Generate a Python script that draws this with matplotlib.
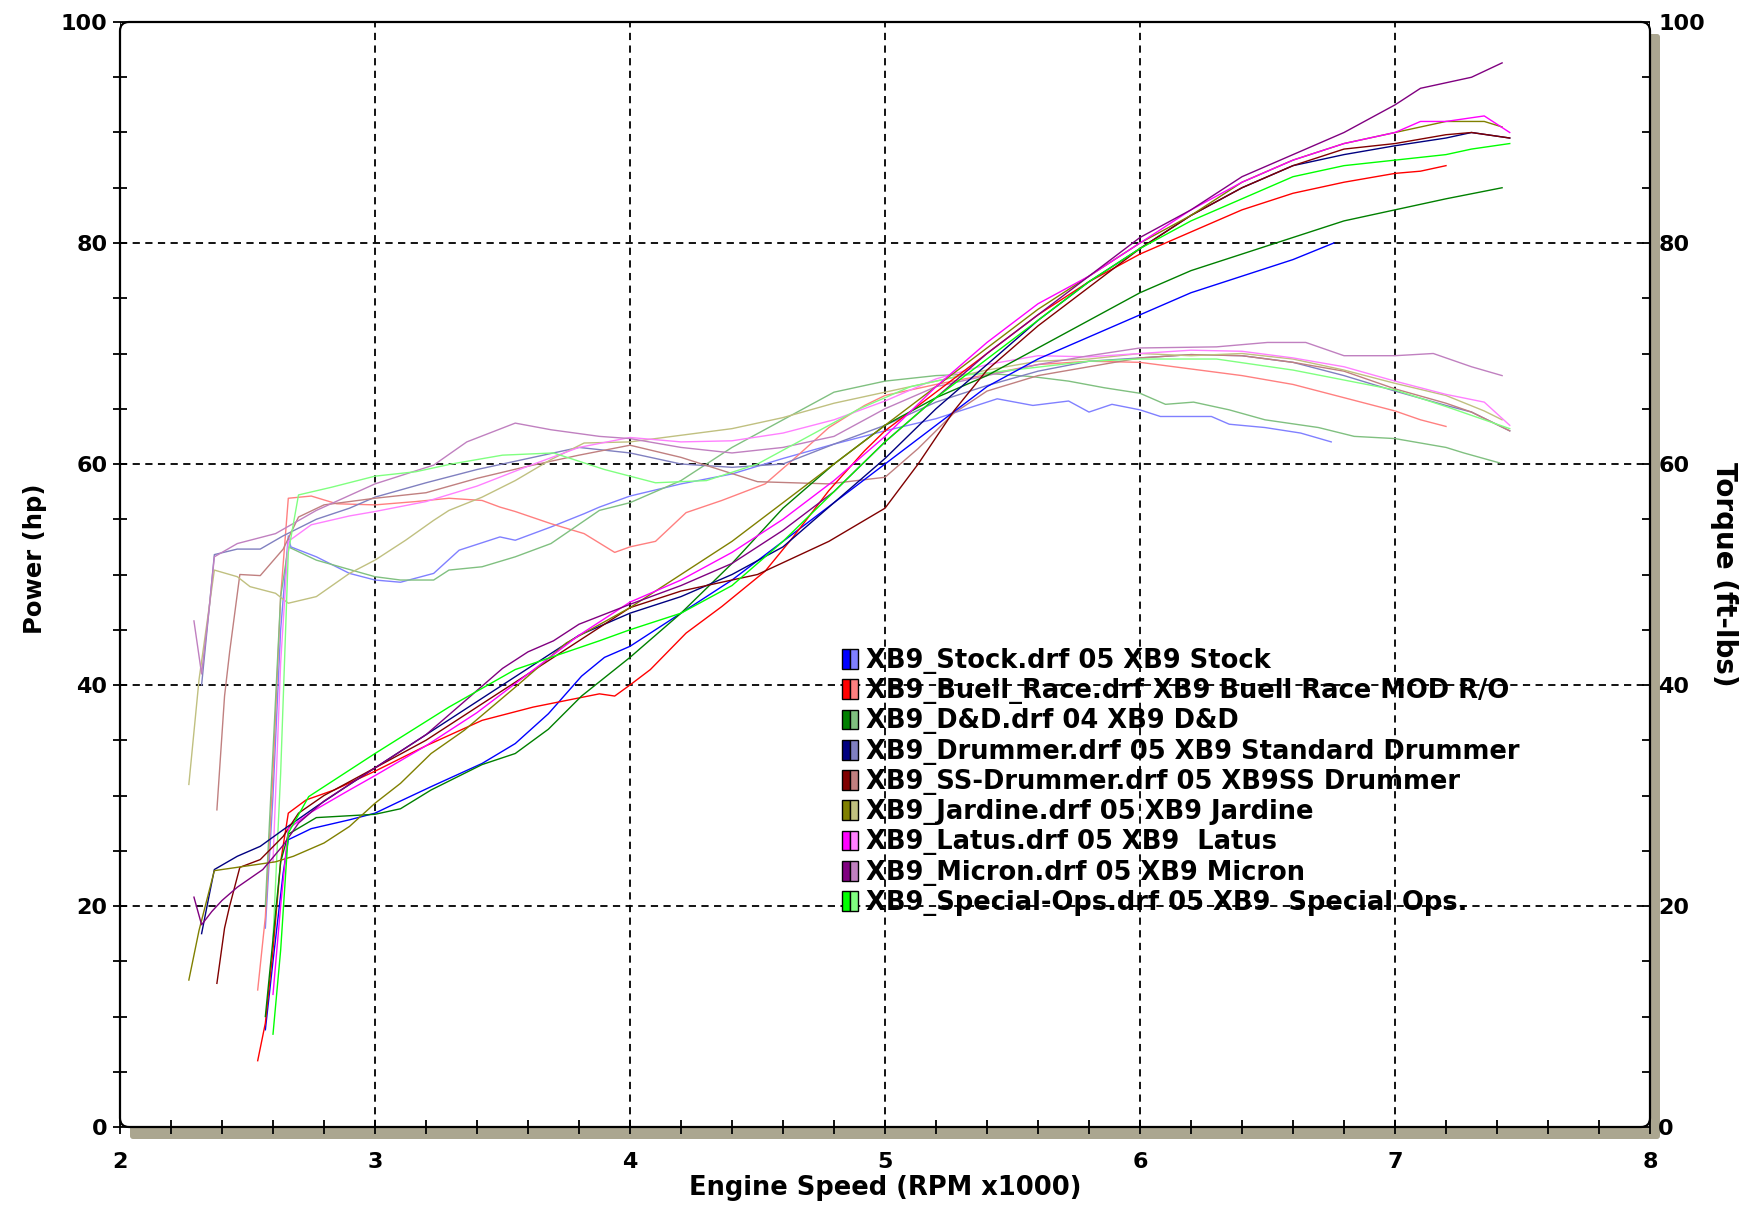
import matplotlib
matplotlib.use("Agg")
import matplotlib.pyplot as plt
from matplotlib.patches import Patch, FancyBboxPatch
from matplotlib.legend_handler import HandlerTuple
from matplotlib.ticker import MultipleLocator

# run names shown in the legend
labels = [
    "XB9_Stock.drf 05 XB9 Stock",
    "XB9_Buell_Race.drf XB9 Buell Race MOD R/O",
    "XB9_D&D.drf 04 XB9 D&D",
    "XB9_Drummer.drf 05 XB9 Standard Drummer",
    "XB9_SS-Drummer.drf 05 XB9SS Drummer",
    "XB9_Jardine.drf 05 XB9 Jardine",
    "XB9_Latus.drf 05 XB9  Latus",
    "XB9_Micron.drf 05 XB9 Micron",
    "XB9_Special-Ops.drf 05 XB9  Special Ops.",
]
power_colors = ["#0000ff", "#ff0000", "#008000", "#000080", "#800000",
                "#808000", "#ff00ff", "#800080", "#00ff00"]
torque_colors = ["#8080ff", "#ff8080", "#80c080", "#8080c0", "#c08080",
                 "#c0c080", "#ff80ff", "#c080c0", "#80ff80"]

# ---- power (hp) vs rpm x1000 ----
stock_rpm = [2.57, 2.6, 2.64, 2.66, 2.75, 2.9, 3.0, 3.1, 3.22, 3.42, 3.55, 3.68, 3.81, 3.9, 4.0, 4.2, 4.4,
             4.6, 4.8, 5.0, 5.2, 5.4, 5.6, 5.8, 6.0, 6.2, 6.4, 6.6, 6.76]
stock_hp = [8.8, 15, 23, 26, 27, 27.8, 28.4, 29.5, 30.8, 32.9, 34.7, 37.4, 40.8, 42.5, 43.5, 46.5, 49.5,
            53, 56.5, 60, 63.5, 67, 69.5, 71.5, 73.5, 75.5, 77, 78.5, 80]

race_rpm = [2.54, 2.57, 2.6, 2.63, 2.66, 2.73, 2.84, 3.0, 3.2, 3.42, 3.62, 3.88, 3.94, 4.0, 4.08, 4.22, 4.36,
            4.53, 4.64, 4.78, 4.92, 5.0, 5.2, 5.4, 5.6, 5.8, 6.0, 6.2, 6.4, 6.6, 6.8, 7.0, 7.1, 7.2]
race_hp = [6, 9.4, 16, 24, 28.4, 29.6, 30.5, 32.2, 34.5, 36.8, 38, 39.2, 39, 40, 41.4, 44.7, 47.1,
           50.3, 53.4, 57.6, 61.2, 63, 66.5, 70, 73.5, 76.5, 79, 81, 83, 84.5, 85.5, 86.3, 86.5, 87]

dd_rpm = [2.57, 2.6, 2.63, 2.66, 2.77, 3.0, 3.1, 3.22, 3.42, 3.55, 3.68, 3.81, 4.0, 4.2, 4.4, 4.6, 4.8,
          5.0, 5.2, 5.4, 5.6, 5.8, 6.0, 6.2, 6.4, 6.6, 6.8, 7.0, 7.2, 7.42]
dd_hp = [10, 17, 24, 26.5, 28, 28.3, 28.8, 30.5, 32.8, 33.8, 36, 39, 42.5, 46.5, 51, 56, 60,
         63.5, 66, 68, 70.5, 73, 75.5, 77.5, 79, 80.5, 82, 83, 84, 85]

drum_rpm = [2.32, 2.35, 2.37, 2.46, 2.55, 2.64, 2.77, 2.9, 3.0, 3.2, 3.4, 3.6, 3.8, 4.0, 4.2, 4.4, 4.6,
            4.8, 5.0, 5.2, 5.4, 5.6, 5.8, 6.0, 6.2, 6.4, 6.6, 6.8, 7.0, 7.2, 7.3, 7.45]
drum_hp = [17.5, 21, 23.3, 24.5, 25.4, 26.9, 29, 31, 32.5, 35.5, 38.5, 41.5, 44.5, 46.5, 48, 50, 52.5,
           56.5, 60.5, 65, 69, 73, 76.5, 79.5, 82.5, 85, 87, 88, 88.8, 89.5, 90, 89.5]

ss_rpm = [2.38, 2.41, 2.43, 2.47, 2.55, 2.64, 2.7, 2.8, 3.0, 3.2, 3.4, 3.6, 3.8, 4.0, 4.2, 4.5, 4.78,
          5.0, 5.13, 5.27, 5.4, 5.6, 5.8, 6.0, 6.2, 6.4, 6.6, 6.8, 7.0, 7.2, 7.3, 7.45]
ss_hp = [13, 18, 20, 23.5, 24.2, 26.3, 28.4, 30, 32.5, 35, 38, 41, 44, 47, 48.5, 50, 53,
         56, 60, 64.8, 68.5, 72.5, 76, 79.5, 82.5, 85, 87, 88.5, 89, 89.8, 90, 89.5]

jard_rpm = [2.27, 2.31, 2.37, 2.46, 2.61, 2.68, 2.8, 2.9, 3.0, 3.1, 3.22, 3.35, 3.55, 3.75, 4.0, 4.2, 4.4,
            4.6, 4.8, 5.0, 5.2, 5.4, 5.6, 5.8, 6.0, 6.2, 6.4, 6.6, 6.8, 7.0, 7.2, 7.35, 7.42]
jard_hp = [13.3, 17.8, 23.2, 23.5, 24, 24.5, 25.7, 27.2, 29.3, 31.1, 33.8, 35.9, 39.8, 43.8, 47, 50, 53,
           56.5, 60, 63.5, 67, 70.5, 74, 77, 80, 82.5, 85.5, 87.5, 89, 90, 91, 91, 90.5]

latus_rpm = [2.6, 2.63, 2.66, 2.75, 2.9, 3.0, 3.2, 3.4, 3.6, 3.8, 4.0, 4.2, 4.4, 4.6, 4.8, 5.0, 5.2,
             5.4, 5.6, 5.8, 6.0, 6.2, 6.4, 6.6, 6.8, 7.0, 7.1, 7.2, 7.35, 7.45]
latus_hp = [12, 20, 27, 28.5, 30.5, 31.8, 34.5, 37.5, 41, 44.5, 47.5, 49.5, 52, 55, 58.5, 62.5, 67,
            71, 74.5, 77, 80, 83, 85.5, 87.5, 89, 90, 91, 91, 91.5, 90]

micron_rpm = [2.29, 2.32, 2.36, 2.4, 2.46, 2.56, 2.64, 2.7, 2.8, 2.9, 3.0, 3.1, 3.2, 3.3, 3.4, 3.5, 3.6,
              3.7, 3.8, 4.0, 4.2, 4.4, 4.6, 4.8, 5.0, 5.2, 5.4, 5.6, 5.8, 6.0, 6.2, 6.4, 6.6, 6.8,
              7.0, 7.1, 7.2, 7.3, 7.42]
micron_hp = [20.8, 18.3, 19.5, 20.5, 21.7, 23.3, 25.5, 27.5, 29.5, 31, 32.5, 34, 35.5, 37.5, 39.5, 41.5, 43,
             44, 45.5, 47.3, 49, 51, 54, 57.5, 62, 66, 70, 73.5, 77, 80.5, 83, 86, 88, 90,
             92.5, 94, 94.5, 95, 96.3]

ops_rpm = [2.6, 2.63, 2.66, 2.74, 3.0, 3.29, 3.55, 3.88, 4.0, 4.2, 4.4, 4.6, 4.8, 5.0, 5.2, 5.4, 5.6,
           5.8, 6.0, 6.2, 6.4, 6.6, 6.8, 7.0, 7.2, 7.3, 7.45]
ops_hp = [8.4, 16, 26.6, 29.9, 33.8, 38, 41.4, 44, 45, 46.5, 49, 53, 57.5, 62, 66, 69.5, 73,
          76.5, 79.5, 82, 84, 86, 87, 87.5, 88, 88.5, 89]

# ---- torque (ft-lbs) vs rpm x1000 ----
stock_t_rpm = [2.57, 2.6, 2.63, 2.66, 2.67, 2.77, 2.9, 3.0, 3.1, 3.23, 3.33, 3.49, 3.55, 3.69, 3.82, 3.88,
               4.0, 4.2, 4.4, 4.6, 4.8, 5.0, 5.2, 5.44, 5.58, 5.72, 5.8, 5.89, 6.0, 6.08, 6.28, 6.35,
               6.49, 6.63, 6.75]
stock_tq = [18, 30, 45, 53.5, 52.5, 51.6, 50.1, 49.5, 49.3, 50.1, 52.2, 53.4, 53.1, 54.3, 55.5, 56.1,
            57.1, 58.2, 59.1, 60.5, 61.8, 63, 64.1, 65.9, 65.3, 65.7, 64.7, 65.4, 64.9, 64.3, 64.3, 63.6,
            63.3, 62.8, 62]

race_t_rpm = [2.54, 2.57, 2.6, 2.63, 2.66, 2.75, 2.85, 3.0, 3.16, 3.29, 3.42, 3.49, 3.55, 3.69, 3.82,
              3.94, 4.0, 4.1, 4.22, 4.36, 4.53, 4.64, 4.78, 4.92, 5.0, 5.2, 5.4, 5.6, 5.8, 6.0, 6.2,
              6.4, 6.6, 6.8, 7.0, 7.1, 7.2]
race_tq = [12.4, 19, 32, 48, 56.9, 57.1, 56.4, 56.3, 56.6, 56.9, 56.7, 56.1, 55.7, 54.6, 53.7,
           52, 52.5, 53, 55.6, 56.7, 58.2, 60.4, 63.3, 65.3, 66.2, 67.2, 68.1, 69, 69.3, 69.2, 68.6,
           68, 67.2, 66, 64.8, 64, 63.4]

dd_t_rpm = [2.57, 2.6, 2.63, 2.66, 2.77, 3.0, 3.1, 3.23, 3.29, 3.42, 3.55, 3.69, 3.88, 4.0, 4.2, 4.4,
            4.6, 4.8, 5.0, 5.2, 5.4, 5.58, 5.72, 5.86, 6.0, 6.1, 6.21, 6.35, 6.49, 6.7, 6.84, 7.0,
            7.2, 7.27, 7.41]
dd_tq = [20, 34, 48, 52.5, 51.3, 49.8, 49.5, 49.5, 50.4, 50.7, 51.6, 52.8, 55.8, 56.5, 58.5, 61.5,
         64, 66.5, 67.5, 68, 68.2, 67.9, 67.5, 66.9, 66.4, 65.4, 65.6, 64.9, 64, 63.3, 62.5, 62.3,
         61.5, 61, 60.1]

drum_t_rpm = [2.32, 2.35, 2.37, 2.46, 2.55, 2.64, 2.77, 2.9, 3.0, 3.2, 3.4, 3.6, 3.8, 4.0, 4.2, 4.4,
              4.6, 4.8, 5.0, 5.2, 5.4, 5.6, 5.8, 6.0, 6.2, 6.4, 6.6, 6.8, 7.0, 7.2, 7.3, 7.45]
drum_tq = [40, 47, 51.8, 52.3, 52.3, 53.5, 55, 56, 57, 58.3, 59.5, 60.5, 61.5, 61, 60, 59.7,
           60, 61.8, 63.5, 65.6, 67.1, 68.4, 69.3, 69.6, 69.9, 69.8, 69.2, 68, 66.6, 65.3, 64.7, 63]

ss_t_rpm = [2.38, 2.41, 2.43, 2.47, 2.55, 2.64, 2.7, 2.8, 3.0, 3.2, 3.4, 3.6, 3.8, 4.0, 4.2, 4.5,
            4.78, 5.0, 5.13, 5.27, 5.4, 5.6, 5.8, 6.0, 6.2, 6.4, 6.6, 6.8, 7.0, 7.2, 7.3, 7.45]
ss_tq = [28.7, 39, 43, 50, 49.9, 52.3, 55.2, 56.3, 56.9, 57.4, 58.7, 59.8, 60.8, 61.7, 60.6, 58.4,
         58.2, 58.8, 61.4, 64.6, 66.6, 68, 68.8, 69.6, 69.9, 69.8, 69.2, 68.4, 66.8, 65.5, 64.7, 63]

jard_t_rpm = [2.27, 2.31, 2.37, 2.46, 2.51, 2.61, 2.66, 2.77, 2.9, 3.0, 3.12, 3.23, 3.29, 3.42, 3.55,
              3.69, 3.82, 4.0, 4.2, 4.4, 4.6, 4.8, 5.0, 5.2, 5.4, 5.6, 5.8, 6.0, 6.2, 6.4, 6.6, 6.8,
              7.0, 7.2, 7.35, 7.42]
jard_tq = [31, 40.5, 50.4, 49.8, 48.9, 48.3, 47.4, 48, 50.1, 51.3, 53.1, 54.9, 55.8, 57, 58.5,
           60.4, 61.9, 62, 62.6, 63.2, 64.2, 65.5, 66.5, 67.5, 68.5, 69.3, 69.5, 70, 69.8, 70, 69.5, 68.5,
           67.3, 66.2, 64.8, 64]

latus_t_rpm = [2.6, 2.63, 2.66, 2.75, 2.9, 3.0, 3.2, 3.4, 3.6, 3.8, 4.0, 4.2, 4.4, 4.6, 4.8, 5.0,
               5.2, 5.4, 5.6, 5.8, 6.0, 6.2, 6.4, 6.6, 6.8, 7.0, 7.2, 7.35, 7.45]
latus_tq = [24, 42, 53, 54.5, 55.3, 55.7, 56.6, 58, 59.8, 61.5, 62.4, 62, 62.1, 62.8, 64, 65.7,
            67.7, 69, 69.8, 69.7, 70, 70.3, 70.2, 69.6, 68.8, 67.5, 66.3, 65.6, 63.5]

micron_t_rpm = [2.29, 2.32, 2.35, 2.37, 2.46, 2.61, 2.77, 3.0, 3.23, 3.36, 3.55, 3.69, 3.88, 4.0, 4.2,
                4.4, 4.6, 4.8, 5.0, 5.2, 5.4, 5.6, 5.8, 6.0, 6.3, 6.5, 6.65, 6.8, 7.0, 7.15, 7.3, 7.42]
micron_tq = [45.8, 41, 47, 51.6, 52.8, 53.7, 55.8, 58.2, 59.9, 62, 63.7, 63.1, 62.5, 62.3, 61.5,
             61, 61.5, 62.5, 65, 67, 68, 69, 69.8, 70.5, 70.6, 71, 71, 69.8, 69.8, 70, 68.8, 68]

ops_t_rpm = [2.6, 2.63, 2.66, 2.7, 2.83, 3.0, 3.16, 3.3, 3.5, 3.7, 3.9, 4.1, 4.3, 4.5, 4.7, 4.9,
             5.1, 5.3, 5.5, 5.8, 6.0, 6.3, 6.6, 7.0, 7.2, 7.45]
ops_tq = [17, 32, 52, 57.2, 57.9, 58.9, 59.3, 60, 60.8, 61, 59.5, 58.3, 58.5, 60, 62.5, 65,
          67, 68, 68.5, 69.3, 69.5, 69.5, 68.5, 66.7, 65.2, 63.2]

power_runs = [(stock_rpm, stock_hp), (race_rpm, race_hp), (dd_rpm, dd_hp), (drum_rpm, drum_hp),
              (ss_rpm, ss_hp), (jard_rpm, jard_hp), (latus_rpm, latus_hp), (micron_rpm, micron_hp),
              (ops_rpm, ops_hp)]
torque_runs = [(stock_t_rpm, stock_tq), (race_t_rpm, race_tq), (dd_t_rpm, dd_tq), (drum_t_rpm, drum_tq),
               (ss_t_rpm, ss_tq), (jard_t_rpm, jard_tq), (latus_t_rpm, latus_tq),
               (micron_t_rpm, micron_tq), (ops_t_rpm, ops_tq)]

W, H = 1760, 1206
fig = plt.figure(figsize=(W / 100, H / 100), dpi=100)
fig.patch.set_facecolor("white")

# plot area in pixels
L, R, T, B = 120, 1650, 22, 1127
ax = fig.add_axes([L / W, 1 - B / H, (R - L) / W, (B - T) / H])
ax.set_facecolor("white")
ax.set_zorder(1)

# grey drop shadow and rounded frame
shadow = FancyBboxPatch((L + 10, H - B - 12), R - L, B - T, boxstyle="round,pad=0,rounding_size=3",
                        transform=None, facecolor="#aba690", edgecolor="none", zorder=0)
fig.patches.append(shadow)
frame = FancyBboxPatch((L, H - B), R - L, B - T, boxstyle="round,pad=0,rounding_size=9",
                       transform=None, facecolor="none", edgecolor="black", lw=1.6, zorder=5)
fig.patches.append(frame)
for s in ax.spines.values():
    s.set_visible(False)

ax2 = ax.twinx()
ax2.set_zorder(2)
ax2.patch.set_visible(False)
for s in ax2.spines.values():
    s.set_visible(False)

for (r, v), c in zip(torque_runs, torque_colors):
    ax2.plot(r, v, color=c, lw=1.0)
for (r, v), c in zip(power_runs, power_colors):
    ax2.plot(r, v, color=c, lw=1.0)

for a in (ax, ax2):
    a.set_xlim(2, 8)
    a.set_ylim(0, 100)
    a.yaxis.set_major_locator(MultipleLocator(20))
    a.yaxis.set_minor_locator(MultipleLocator(5))
ax.xaxis.set_major_locator(MultipleLocator(1))
ax.xaxis.set_minor_locator(MultipleLocator(0.2))

ax.grid(True, which="major", color="black", ls=(0, (4, 3)), lw=1.3)
ax.tick_params(which="both", direction="inout", length=10, width=1.3, color="black")
ax.tick_params(axis="x", top=False, pad=13)
ax.tick_params(axis="y", left=True, right=False, pad=4)
ax2.tick_params(which="both", direction="in", length=6, width=1.3, color="black", pad=6)

tick_font = dict(family="DejaVu Sans", weight="bold", size=16)
ax.set_xticks([2, 3, 4, 5, 6, 7, 8])
ax.set_xticklabels(["2", "3", "4", "5", "6", "7", "8"], **tick_font)
ax.set_yticks([0, 20, 40, 60, 80, 100])
ax.set_yticklabels(["0", "20", "40", "60", "80", "100"], **tick_font)
ax2.set_yticks([0, 20, 40, 60, 80, 100])
ax2.set_yticklabels(["0", "20", "40", "60", "80", "100"], **tick_font)

ax.set_xlabel("Engine Speed (RPM x1000)", fontsize=18.5, fontweight="bold", labelpad=2)
ax.set_ylabel("Power (hp)", fontsize=17.5, fontweight="bold")
ax.yaxis.set_label_coords(-0.048, 0.514)
ax2.set_ylabel("Torque (ft-lbs)", fontsize=20, fontweight="bold", rotation=-90, labelpad=24)

handles = [(Patch(facecolor=pc, edgecolor="black", lw=1.0), Patch(facecolor=tc, edgecolor="black", lw=1.0))
           for pc, tc in zip(power_colors, torque_colors)]
leg = ax2.legend(handles, labels, handler_map={tuple: HandlerTuple(ndivide=None, pad=0)},
                 loc="upper left", bbox_to_anchor=(842 / W, 1 - 648 / H), bbox_transform=fig.transFigure,
                 frameon=False, prop=dict(family="DejaVu Sans", weight="bold", size=18.5),
                 handlelength=0.62, handleheight=0.8, handletextpad=0.3, labelspacing=0.165,
                 borderpad=0, borderaxespad=0)

fig.savefig("out.png", dpi=100, facecolor="white")
